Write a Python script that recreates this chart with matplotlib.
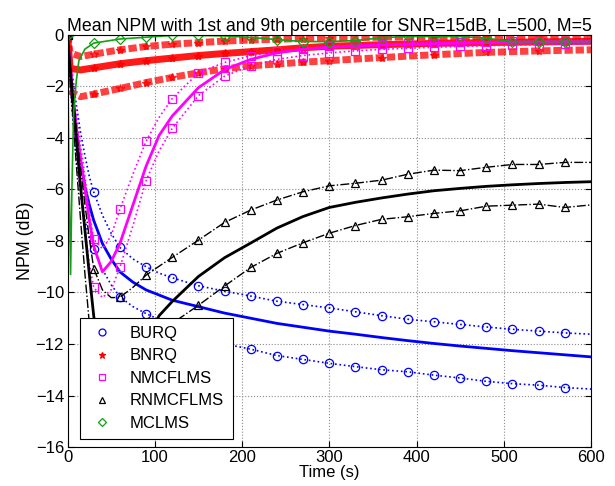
import numpy as np
from matplotlib import pyplot as plt
from matplotlib.lines import Line2D

plt.rcParams['font.family'] = ['Liberation Sans', 'DejaVu Sans']
plt.rcParams['axes.unicode_minus'] = True

# time grid (s) for BURQ, NMCFLMS, RNMCFLMS
t = [0, 2, 5, 10, 15, 20, 25, 30, 40, 50, 60, 75, 90, 105, 120, 150, 180, 210,
     240, 270, 300, 330, 360, 390, 420, 450, 480, 510, 540, 570, 600]

# BURQ: mean, 9th percentile (upper), 1st percentile (lower)
burq_mean = [0, -0.8, -2.0, -3.6, -4.9, -5.9, -6.6, -7.2, -8.1, -8.7, -9.2, -9.6, -9.9,
             -10.1, -10.3, -10.55, -10.8, -11.0, -11.2, -11.35, -11.5, -11.62, -11.75,
             -11.87, -11.98, -12.08, -12.17, -12.26, -12.34, -12.42, -12.5]
burq_hi = [0, -0.5, -1.4, -2.7, -3.8, -4.7, -5.5, -6.1, -7.0, -7.7, -8.25, -8.7, -9.0,
           -9.25, -9.43, -9.74, -9.95, -10.14, -10.34, -10.47, -10.6, -10.75, -10.9,
           -11.04, -11.14, -11.24, -11.34, -11.43, -11.5, -11.57, -11.62]
burq_lo = [0, -1.2, -2.8, -4.8, -6.2, -7.2, -7.9, -8.33, -9.1, -9.7, -10.17, -10.55,
           -10.82, -11.05, -11.3, -11.7, -12.0, -12.2, -12.45, -12.6, -12.75, -12.88,
           -13.0, -13.08, -13.21, -13.32, -13.45, -13.54, -13.6, -13.69, -13.75]

# NMCFLMS
nmc_mean = [0, -0.8, -2.0, -3.6, -4.8, -6.0, -7.2, -8.2, -9.2, -8.8, -8.1, -6.6, -5.1,
            -3.9, -3.15, -2.05, -1.35, -0.95, -0.7, -0.55, -0.48, -0.43, -0.39, -0.36,
            -0.34, -0.32, -0.3, -0.29, -0.28, -0.27, -0.26]
nmc_hi = [0, -0.6, -1.6, -3.0, -4.3, -5.5, -6.9, -7.94, -8.3, -7.8, -6.77, -5.4, -4.13,
          -3.2, -2.47, -1.47, -1.07, -0.81, -0.64, -0.55, -0.45, -0.4, -0.36, -0.33,
          -0.3, -0.28, -0.26, -0.25, -0.24, -0.23, -0.22]
nmc_lo = [0, -1.0, -2.6, -4.5, -6.2, -7.6, -8.9, -9.8, -10.2, -9.9, -9.03, -7.4, -5.66,
          -4.5, -3.63, -2.36, -1.6, -1.2, -0.95, -0.8, -0.7, -0.62, -0.56, -0.52, -0.48,
          -0.45, -0.42, -0.4, -0.38, -0.36, -0.35]

# RNMCFLMS
rnm_mean = [0, -0.9, -2.2, -4.0, -5.9, -7.6, -9.3, -10.9, -13.5, -14.6, -14.5, -13.3,
            -11.9, -10.9, -10.35, -9.38, -8.65, -8.08, -7.5, -7.05, -6.7, -6.5, -6.33,
            -6.18, -6.05, -5.96, -5.88, -5.82, -5.77, -5.73, -5.7]
rnm_hi = [0, -0.7, -1.8, -3.6, -5.2, -6.6, -7.9, -9.07, -9.9, -10.2, -10.19, -9.8, -9.33,
          -8.98, -8.64, -7.97, -7.28, -6.8, -6.41, -6.09, -5.86, -5.76, -5.64, -5.41,
          -5.25, -5.27, -5.14, -5.03, -5.03, -4.95, -4.95]
rnm_lo = [0, -1.1, -2.7, -5.0, -7.2, -9.3, -11.2, -12.8, -14.8, -15.3, -15.2, -14.0,
          -12.7, -11.8, -11.2, -10.5, -9.75, -9.03, -8.48, -8.07, -7.7, -7.4, -7.16,
          -7.06, -6.93, -6.83, -6.65, -6.61, -6.57, -6.7, -6.6]

# BNRQ (own time grid)
t_bnrq = [0, 3, 15, 30, 60, 90, 120, 150, 180, 210, 240, 270, 300, 360, 420, 480, 540, 600]
bnrq_hi = [0, -0.7, -0.84, -0.75, -0.58, -0.45, -0.36, -0.3, -0.24, -0.2, -0.17, -0.14,
           -0.12, -0.09, -0.07, -0.06, -0.05, -0.05]
bnrq_mean = [0, -1.3, -1.36, -1.28, -1.12, -1.0, -0.9, -0.8, -0.72, -0.65, -0.58, -0.5,
             -0.44, -0.38, -0.33, -0.3, -0.27, -0.25]
bnrq_lo = [0, -2.2, -2.4, -2.3, -2.08, -1.85, -1.65, -1.47, -1.32, -1.2, -1.13, -1.06,
           -1.0, -0.88, -0.77, -0.68, -0.62, -0.58]

# MCLMS (own time grid)
t_mcl = [0, 1.5, 3.5, 5, 7, 10, 13, 20, 30, 60, 90, 120, 150, 180, 210, 240, 270, 300,
         330, 360, 390, 420, 450, 480, 510, 540, 570, 600]
mcl_mean = [0, -5.0, -9.3, -6.0, -3.0, -1.8, -1.0, -0.55, -0.32, -0.16, -0.09, -0.02,
            -0.02, -0.04, -0.1, -0.18, -0.26, -0.26, -0.22, -0.11, -0.06, -0.06, -0.06,
            -0.13, -0.26, -0.26, -0.26, -0.26]

labels = ['BURQ', 'BNRQ', 'NMCFLMS', 'RNMCFLMS', 'MCLMS']
colors = ['#0000ff', '#ff0000', '#ff00ff', '#000000', '#13a013']
markers = ['o', '*', 's', '^', 'D']


def every30(tt):
    return [i for i, v in enumerate(tt) if v % 30 == 0 and v < 600]


fig = plt.figure(figsize=(6.15, 4.86), dpi=100)
ax = fig.add_axes([0.1098, 0.0802, 0.8512, 0.848])

mk = dict(mfc='none', mew=0.9)

# BURQ
c = colors[0]
ax.plot(t, burq_mean, '-', color=c, lw=2)
for y in (burq_hi, burq_lo):
    ax.plot(t, y, ':', color=c, lw=1.2, marker='o', ms=6, markevery=every30(t), **mk)

# BNRQ - noisy bands in the original, drawn as thick lines
c = colors[1]
ax.plot(t_bnrq, bnrq_mean, '-', color=c, lw=5, alpha=0.9, marker='*', ms=6,
        markevery=every30(t_bnrq))
for y in (bnrq_hi, bnrq_lo):
    ax.plot(t_bnrq, y, '--', color=c, lw=5, alpha=0.75, dashes=(1.2, 0.4), marker='*',
            ms=6, markevery=every30(t_bnrq))

# NMCFLMS
c = colors[2]
ax.plot(t, nmc_mean, '-', color=c, lw=2)
for y in (nmc_hi, nmc_lo):
    ax.plot(t, y, ':', color=c, lw=1.2, marker='s', ms=6, markevery=every30(t), **mk)

# RNMCFLMS
c = colors[3]
ax.plot(t, rnm_mean, '-', color=c, lw=2)
for y in (rnm_hi, rnm_lo):
    ax.plot(t, y, '-.', color=c, lw=1, marker='^', ms=6, markevery=every30(t), **mk)

# MCLMS
c = colors[4]
ax.plot(t_mcl, mcl_mean, '-', color=c, lw=1.2, marker='D', ms=5,
        markevery=every30(t_mcl), **mk)

ax.set_xlim(0, 600)
ax.set_ylim(-16, 0)
ax.set_xticks(np.arange(0, 601, 100))
ax.set_yticks(np.arange(-16, 1, 2))
ax.grid(True, ls=':', color='0.55', lw=0.8)
ax.tick_params(direction='in', top=True, right=True, labelsize=12, length=4, pad=2.5)
for s in ax.spines.values():
    s.set_linewidth(0.8)

ax.set_title('Mean NPM with 1st and 9th percentile for SNR=15dB, L=500, M=5',
             fontsize=12.8, pad=3)
ax.set_xlabel('Time (s)', fontsize=12, labelpad=0)
ax.set_ylabel('NPM (dB)', fontsize=12.8, labelpad=1)

handles = [Line2D([], [], ls='none', marker=m, color=c, mfc='none' if m != '*' else c,
                  ms=5 if m != 'D' else 4.5, mew=0.9)
           for m, c in zip(markers, colors)]
leg = ax.legend(handles, labels, loc='lower left', bbox_to_anchor=(0.024, 0.019),
                fontsize=12, fancybox=False, framealpha=1, edgecolor='black',
                borderaxespad=0, handlelength=1.6, handletextpad=0.9,
                labelspacing=0.45, borderpad=0.5)
leg.get_frame().set_linewidth(0.8)

plt.savefig('out.png', dpi=100)
